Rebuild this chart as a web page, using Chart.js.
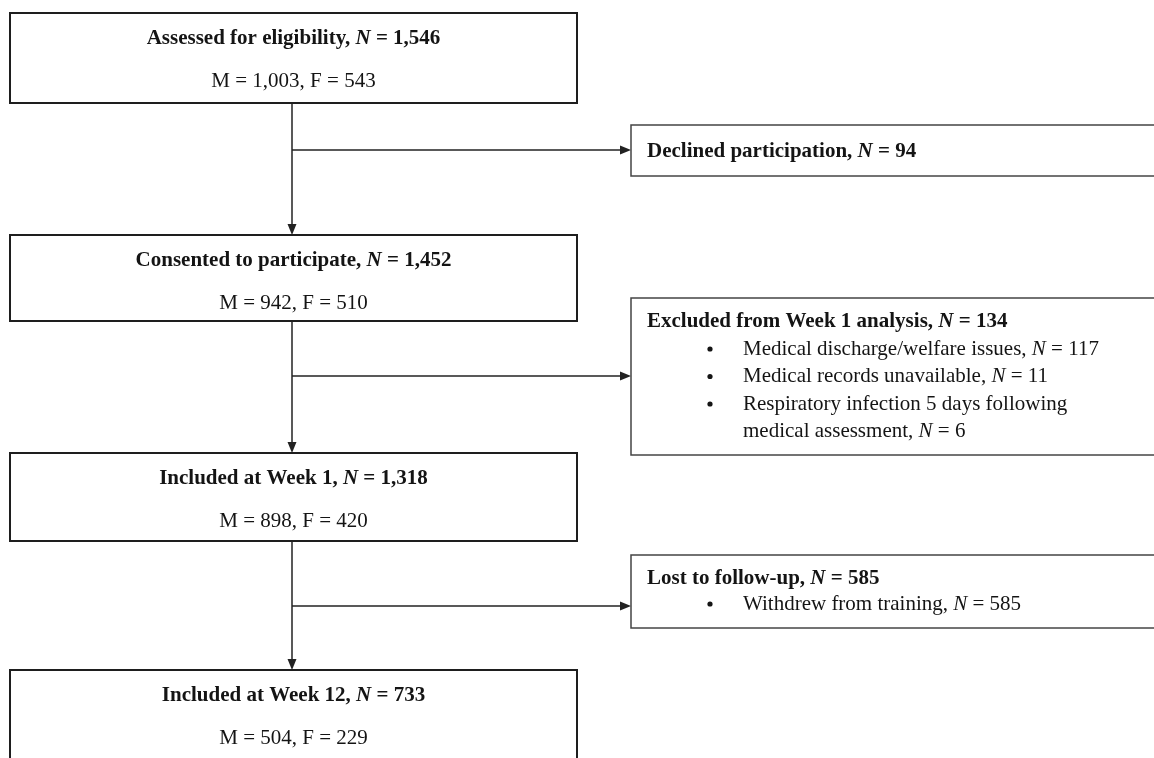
<!DOCTYPE html>
<html>
<head>
<meta charset="utf-8">
<script src="https://cdn.jsdelivr.net/npm/chart.js@4/dist/chart.umd.min.js"></script>
<style>
html,body{margin:0;padding:0;background:#fff;overflow:hidden}
#wrap{width:1154px;height:758px;position:relative}
</style>
</head>
<body>
<div id="wrap"><canvas id="c" width="1154" height="758"></canvas></div>
<script>
// ---------- DATA ----------
const stageLabels = ["Assessed for eligibility", "Consented to participate", "Included at Week 1", "Included at Week 12"];
const stageN = [1546, 1452, 1318, 733];
const stageMale = [1003, 942, 898, 504];
const stageFemale = [543, 510, 420, 229];
const exitLabels = ["Declined participation", "Excluded from Week 1 analysis", "Lost to follow-up"];
const exitN = [94, 134, 585];
const exitReasonLabels = [
  [],
  ["Medical discharge/welfare issues", "Medical records unavailable", "Respiratory infection 5 days following medical assessment"],
  ["Withdrew from training"]
];
const exitReasonN = [[], [117, 11, 6], [585]];

// ---------- LAYOUT (in scale units, 1 unit = 1 px) ----------
const mainBoxX = [10, 577];
const mainBoxTop = [13, 235, 453, 670];
const mainBoxBottom = [103, 321, 541, 790];
const mainTitleOffset = 24;
const mainSubOffset = 67;
const flowX = 292;
const sideBoxX = [631, 1170];
const sideBoxTop = [125, 298, 555];
const sideBoxBottom = [176, 455, 628];
const sideTitleY = [150, 320.5, 577];
const sideLineStep = [27, 27.5, 26];
const branchY = [150, 376, 606];
const sideTitleX = 647, bulletX = 710, bulletTextX = 743, wrapWidth = 390;

const FONT = '"Liberation Serif","Times New Roman",Times,serif';
const SIZE = 21;
const TEXT = '#141414';
const LINE = '#222';

const fmt = v => v.toLocaleString('en-US');

function fontOf(bold, italic) {
  return (italic ? 'italic ' : '') + (bold ? 'bold ' : '') + SIZE + 'px ' + FONT;
}
function tokens(runs) {
  const out = [];
  runs.forEach(r => {
    r.t.split(/(\s+)/).forEach(p => { if (p.length) out.push({t: p, b: r.b, i: r.i}); });
  });
  return out;
}
function width(ctx, toks) {
  let w = 0;
  toks.forEach(k => { ctx.font = fontOf(k.b, k.i); w += ctx.measureText(k.t).width; });
  return w;
}
function wrap(ctx, runs, maxW) {
  const toks = tokens(runs);
  const lines = [];
  let cur = [];
  toks.forEach(k => {
    const isSpace = /^\s+$/.test(k.t);
    if (!isSpace && cur.length && width(ctx, cur.concat([k])) > maxW) {
      while (cur.length && /^\s+$/.test(cur[cur.length - 1].t)) cur.pop();
      lines.push(cur); cur = [];
    }
    if (isSpace && !cur.length) return;
    cur.push(k);
  });
  if (cur.length) lines.push(cur);
  return lines;
}
function drawToks(ctx, toks, x, capY, align) {
  const w = width(ctx, toks);
  let cx = align === 'center' ? x - w / 2 : x;
  const base = capY + SIZE * 0.331;
  ctx.fillStyle = TEXT;
  ctx.textBaseline = 'alphabetic';
  ctx.textAlign = 'left';
  toks.forEach(k => {
    ctx.font = fontOf(k.b, k.i);
    ctx.fillText(k.t, cx, base);
    cx += ctx.measureText(k.t).width;
  });
}
function nRuns(label, n, bold) {
  return [{t: label + ', ', b: bold}, {t: 'N', b: bold, i: true}, {t: ' = ' + fmt(n), b: bold}];
}
function arrowHead(ctx, x, y, dir) {
  const len = 11, hw = 4.5;
  ctx.beginPath();
  if (dir === 'down') { ctx.moveTo(x, y); ctx.lineTo(x - hw, y - len); ctx.lineTo(x + hw, y - len); }
  else { ctx.moveTo(x, y); ctx.lineTo(x - len, y - hw); ctx.lineTo(x - len, y + hw); }
  ctx.closePath();
  ctx.fillStyle = LINE;
  ctx.fill();
}

const flowPlugin = {
  id: 'flow',
  afterDatasetsDraw(chart) {
    const ctx = chart.ctx, xs = chart.scales.x, ys = chart.scales.y;
    const X = v => xs.getPixelForValue(v), Y = v => ys.getPixelForValue(v);
    ctx.save();
    // connectors
    ctx.strokeStyle = LINE; ctx.lineWidth = 1.5;
    for (let i = 0; i < stageLabels.length - 1; i++) {
      ctx.beginPath();
      ctx.moveTo(X(flowX), Y(mainBoxBottom[i]));
      ctx.lineTo(X(flowX), Y(mainBoxTop[i + 1]) - 8);
      ctx.stroke();
      arrowHead(ctx, X(flowX), Y(mainBoxTop[i + 1]), 'down');
    }
    for (let j = 0; j < exitLabels.length; j++) {
      ctx.beginPath();
      ctx.moveTo(X(flowX), Y(branchY[j]));
      ctx.lineTo(X(sideBoxX[0]) - 8, Y(branchY[j]));
      ctx.stroke();
      arrowHead(ctx, X(sideBoxX[0]), Y(branchY[j]), 'right');
    }
    // main boxes
    ctx.strokeStyle = '#1e1e1e'; ctx.lineWidth = 2;
    for (let i = 0; i < stageLabels.length; i++) {
      const x0 = X(mainBoxX[0]), x1 = X(mainBoxX[1]), y0 = Y(mainBoxTop[i]), y1 = Y(mainBoxBottom[i]);
      ctx.fillStyle = '#fff'; ctx.fillRect(x0, y0, x1 - x0, y1 - y0);
      ctx.strokeRect(x0, y0, x1 - x0, y1 - y0);
      const cx = X((mainBoxX[0] + mainBoxX[1]) / 2);
      drawToks(ctx, tokens(nRuns(stageLabels[i], stageN[i], true)), cx, Y(mainBoxTop[i] + mainTitleOffset), 'center');
      drawToks(ctx, tokens([{t: 'M = ' + fmt(stageMale[i]) + ', F = ' + fmt(stageFemale[i])}]), cx, Y(mainBoxTop[i] + mainSubOffset), 'center');
    }
    // side boxes
    ctx.strokeStyle = '#444'; ctx.lineWidth = 1.5;
    for (let j = 0; j < exitLabels.length; j++) {
      const x0 = X(sideBoxX[0]), x1 = X(sideBoxX[1]), y0 = Y(sideBoxTop[j]), y1 = Y(sideBoxBottom[j]);
      ctx.fillStyle = '#fff'; ctx.fillRect(x0, y0, x1 - x0, y1 - y0);
      ctx.strokeRect(x0, y0, x1 - x0, y1 - y0);
      drawToks(ctx, tokens(nRuns(exitLabels[j], exitN[j], true)), X(sideTitleX), Y(sideTitleY[j]), 'left');
      let line = 1;
      exitReasonLabels[j].forEach((lab, k) => {
        const lines = wrap(ctx, nRuns(lab, exitReasonN[j][k], false), wrapWidth);
        const yy = Y(sideTitleY[j] + line * sideLineStep[j]);
        ctx.beginPath();
        ctx.arc(X(bulletX), yy + 1, 2.6, 0, Math.PI * 2);
        ctx.fillStyle = TEXT; ctx.fill();
        lines.forEach(ln => {
          drawToks(ctx, ln, X(bulletTextX), Y(sideTitleY[j] + line * sideLineStep[j]), 'left');
          line++;
        });
      });
    }
    ctx.restore();
  }
};

new Chart(document.getElementById('c'), {
  type: 'scatter',
  data: {
    datasets: [{
      label: 'stages',
      data: stageLabels.map((s, i) => ({x: (mainBoxX[0] + mainBoxX[1]) / 2, y: (mainBoxTop[i] + mainBoxBottom[i]) / 2})),
      pointRadius: 0, showLine: false
    }]
  },
  options: {
    responsive: false,
    animation: false,
    events: [],
    layout: {padding: 0},
    plugins: {legend: {display: false}, tooltip: {enabled: false}, title: {display: false}},
    scales: {
      x: {type: 'linear', min: 0, max: 1154, display: false},
      y: {type: 'linear', min: 0, max: 758, reverse: true, display: false}
    }
  },
  plugins: [flowPlugin]
});
</script>
</body>
</html>
